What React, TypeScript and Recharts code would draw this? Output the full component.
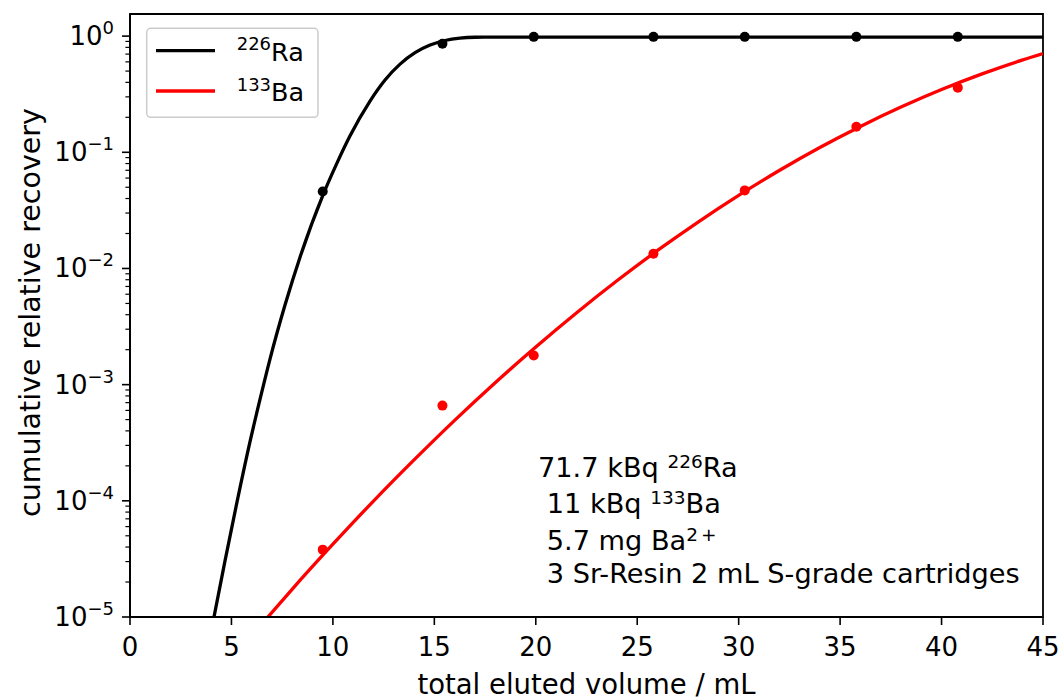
import React from "react"
import { ComposedChart, Line, ReferenceArea, Scatter, XAxis, YAxis } from "recharts"

// measured points (total eluted volume / mL)
const volumes = [9.5, 15.4, 19.9, 25.8, 30.3, 35.8, 40.8]
const raMeasured = [0.046, 0.86, 0.985, 0.985, 0.985, 0.985, 0.985]
const baMeasured = [3.8e-5, 6.6e-4, 1.78e-3, 0.0134, 0.047, 0.166, 0.36]

// fitted curves
const raFitX = [4.14, 4.68, 5.26, 5.91, 6.41, 6.9, 7.64, 8.38, 9.51, 10.2, 10.84, 11.83, 12.57, 13.31, 14.05, 14.79, 15.53, 16.26, 17.0, 17.74, 20, 25, 30, 35, 40, 45]
const raFitY = [1.0e-5, 3.03e-5, 9.5e-5, 3.2e-4, 7.5e-4, 1.66e-3, 4.84e-3, 0.0125, 0.0428, 0.0807, 0.138, 0.276, 0.419, 0.574, 0.72, 0.837, 0.917, 0.961, 0.978, 0.98, 0.98, 0.98, 0.98, 0.98, 0.98, 0.98]
const baFitX = [6.8, 8, 10, 12, 14, 16, 18, 20, 22, 24, 26, 28, 30, 32, 34, 36, 38, 40, 42, 44, 45]
const baFitY = [1.0e-5, 1.74e-5, 4.23e-5, 9.95e-5, 2.25e-4, 4.93e-4, 1.04e-3, 2.11e-3, 4.14e-3, 7.83e-3, 0.01429, 0.0251, 0.0426, 0.0697, 0.11, 0.167, 0.245, 0.347, 0.473, 0.624, 0.708]

const xTicks = [0, 5, 10, 15, 20, 25, 30, 35, 40, 45]
const yMajor = [1e-5, 1e-4, 1e-3, 1e-2, 1e-1, 1]

const yTicks: number[] = []
for (let e = -5; e < 0; e++) {
    for (let m = 1; m < 10; m++) yTicks.push(m * Math.pow(10, e))
}
yTicks.push(1)

const raFit = raFitX.map((x, i) => ({ x, y: raFitY[i] }))
const baFit = baFitX.map((x, i) => ({ x, y: baFitY[i] }))
const raPts = volumes.map((x, i) => ({ x, y: raMeasured[i] }))
const baPts = volumes.map((x, i) => ({ x, y: baMeasured[i] }))

const FONT = "'DejaVu Sans', sans-serif"
const W = 1061
const H = 698

const XTick = ({ x, y, payload }: any) => (
    <g>
        <line x1={x} x2={x} y1={y} y2={y + 8} stroke="#000" strokeWidth={1.6} />
        <text x={x} y={y + 39} textAnchor="middle" fontSize={26} fontFamily={FONT} fill="#000">
            {payload.value}
        </text>
    </g>
)

const YTick = ({ x, y, payload }: any) => {
    const v = payload.value
    const lg = Math.log10(v)
    const exp = Math.round(lg)
    const major = Math.abs(lg - exp) < 1e-6 && yMajor.includes(Math.pow(10, exp))
    return (
        <g>
            <line x1={x} x2={x - (major ? 8 : 4.6)} y1={y} y2={y} stroke="#000" strokeWidth={major ? 1.6 : 1.2} />
            {major && (
                <text x={x - 16} y={y + 9} textAnchor="end" fontSize={26} fontFamily={FONT} fill="#000">
                    10
                    <tspan dy={-11} fontSize={18}>{exp === 0 ? "0" : "\u2212" + -exp}</tspan>
                </text>
            )}
        </g>
    )
}

const dot = (color: string) => (props: any) => <circle cx={props.cx} cy={props.cy} r={5} fill={color} />

export default function App() {
    // pinned to the page corner so the figure fills the whole window, like the original
    return (
        <div style={{ position: "absolute", left: 0, top: 0, width: W, height: H, background: "#fff" }}>
            <ComposedChart width={W} height={H} margin={{ top: 14, right: 18, bottom: 0, left: 0 }}>
                <XAxis
                    xAxisId="b"
                    dataKey="x"
                    type="number"
                    domain={[0, 45]}
                    ticks={xTicks}
                    interval={0}
                    height={81}
                    tickSize={0}
                    tickMargin={0}
                    tickLine={false}
                    tick={<XTick />}
                    axisLine={{ stroke: "#000", strokeWidth: 1.8 }}
                    allowDataOverflow
                    label={(p: any) => {
                        const vb = p.viewBox || {}
                        return (
                            <text x={vb.x + vb.width / 2} y={vb.y + 76.5} textAnchor="middle" fontSize={27.5} fontFamily={FONT} fill="#000">
                                total eluted volume / mL
                            </text>
                        )
                    }}
                />
                <YAxis
                    yAxisId="l"
                    dataKey="y"
                    scale="log"
                    type="number"
                    domain={[1e-5, 1.55]}
                    ticks={yTicks}
                    interval={0}
                    width={130}
                    tickSize={0}
                    tickMargin={0}
                    tickLine={false}
                    tick={<YTick />}
                    axisLine={{ stroke: "#000", strokeWidth: 1.8 }}
                    allowDataOverflow
                    label={(p: any) => {
                        const vb = p.viewBox || {}
                        const cx = 30
                        const cy = vb.y + vb.height / 2 - 3
                        return (
                            <text x={cx} y={cy} transform={`rotate(-90 ${cx} ${cy})`} textAnchor="middle" dominantBaseline="central" fontSize={28.5} fontFamily={FONT} fill="#000">
                                cumulative relative recovery
                            </text>
                        )
                    }}
                />
                <ReferenceArea xAxisId="b" yAxisId="l" x1={0} x2={45} y1={1e-5} y2={1.55} fill="none" fillOpacity={0} stroke="#000" strokeWidth={1.8} />
                <Line xAxisId="b" yAxisId="l" data={raFit} dataKey="y" type="monotone" stroke="#000" strokeWidth={3.3} dot={false} isAnimationActive={false} />
                <Line xAxisId="b" yAxisId="l" data={baFit} dataKey="y" type="monotone" stroke="#ff0000" strokeWidth={3.3} dot={false} isAnimationActive={false} />
                <Scatter xAxisId="b" yAxisId="l" data={raPts} dataKey="y" shape={dot("#000")} isAnimationActive={false} />
                <Scatter xAxisId="b" yAxisId="l" data={baPts} dataKey="y" shape={dot("#ff0000")} isAnimationActive={false} />
            </ComposedChart>
            <svg width={W} height={H} style={{ position: "absolute", left: 0, top: 0, pointerEvents: "none" }} fontFamily={FONT}>
                {/* legend */}
                <rect x={146.7} y={28.3} width={171.3} height={89} rx={4} fill="#fff" fillOpacity={0.8} stroke="#cccccc" strokeWidth={1.5} />
                <line x1={156} x2={215} y1={50.7} y2={50.7} stroke="#000" strokeWidth={3.3} />
                <line x1={156} x2={215} y1={91} y2={91} stroke="#ff0000" strokeWidth={3.3} />
                <text x={236.7} y={60.7} fontSize={25.5} fill="#000">
                    <tspan fontSize={18} dy={-10.5}>226</tspan>
                    <tspan dy={10.5}>Ra</tspan>
                </text>
                <text x={236.7} y={101} fontSize={25.5} fill="#000">
                    <tspan fontSize={18} dy={-10.5}>133</tspan>
                    <tspan dy={10.5}>Ba</tspan>
                </text>
                {/* annotation */}
                <g fontSize={27.2} fill="#000">
                    <text x={538} y={477}>
                        71.7 kBq <tspan fontSize={18.5} dy={-9}>226</tspan>
                        <tspan dy={9}>Ra</tspan>
                    </text>
                    <text x={546.7} y={513}>
                        11 kBq <tspan fontSize={18.5} dy={-9}>133</tspan>
                        <tspan dy={9}>Ba</tspan>
                    </text>
                    <text x={546.7} y={550}>
                        5.7 mg Ba<tspan fontSize={18.5} dy={-9}>2</tspan>
                        <tspan fontSize={18.5} dx={3}>+</tspan>
                    </text>
                    <text x={546.7} y={583}>3 Sr-Resin 2 mL S-grade cartridges</text>
                </g>
            </svg>
        </div>
    )
}
